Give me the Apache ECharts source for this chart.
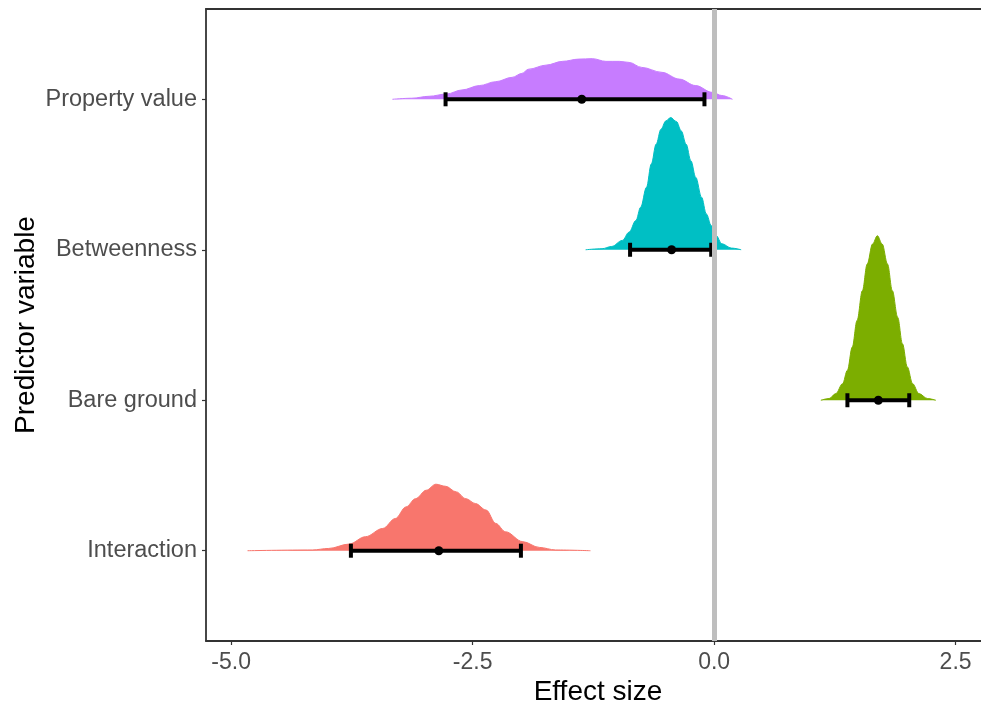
<!DOCTYPE html>
<html>
<head>
<meta charset="utf-8">
<script src="https://cdn.jsdelivr.net/npm/echarts@6/dist/echarts.min.js"></script>
<style>
    html, body { margin: 0; padding: 0; background: #fff; overflow: hidden; }
    #chart { width: 981px; height: 704px; }
</style>
</head>
<body>
<div id="chart"></div>
<script>
// rows from bottom to top
var categories = ['Interaction', 'Bare ground', 'Betweenness', 'Property value'];
var xTicks = [-5, -2.5, 0, 2.5];
var colors = ['#F8766D', '#7CAE00', '#00BFC4', '#C77CFF'];

// posterior densities: [effect size, height in row units]
var interactionDensity = [[-4.83,0],[-4.16,0.005],[-3.99,0.015],[-3.78,0.044],[-3.61,0.093],[-3.43,0.148],[-3.30,0.214],[-3.19,0.291],[-3.09,0.346],[-2.98,0.402],[-2.88,0.442],[-2.78,0.428],[-2.67,0.391],[-2.57,0.346],[-2.47,0.313],[-2.36,0.27],[-2.26,0.181],[-2.16,0.126],[-1.98,0.06],[-1.81,0.022],[-1.64,0.005],[-1.28,0]];
var bareGroundDensity = [[1.105,0],[1.19,0.011],[1.26,0.044],[1.33,0.11],[1.38,0.199],[1.43,0.353],[1.48,0.53],[1.535,0.728],[1.585,0.905],[1.64,1.038],[1.69,1.093],[1.74,1.038],[1.795,0.905],[1.845,0.728],[1.90,0.552],[1.95,0.375],[2.00,0.221],[2.055,0.11],[2.12,0.044],[2.21,0.011],[2.295,0]];
var betweennessDensity = [[-1.33,0],[-1.16,0.007],[-1.06,0.022],[-0.95,0.062],[-0.88,0.117],[-0.81,0.194],[-0.76,0.283],[-0.70,0.415],[-0.65,0.57],[-0.60,0.702],[-0.55,0.801],[-0.50,0.856],[-0.45,0.879],[-0.39,0.852],[-0.34,0.79],[-0.29,0.702],[-0.24,0.591],[-0.19,0.481],[-0.13,0.349],[-0.08,0.238],[-0.03,0.161],[0.02,0.095],[0.08,0.04],[0.18,0.011],[0.28,0]];
var propertyDensity = [[-3.33,0],[-3.13,0.007],[-2.95,0.02],[-2.77,0.035],[-2.61,0.062],[-2.43,0.091],[-2.26,0.117],[-2.09,0.146],[-1.99,0.172],[-1.92,0.20],[-1.74,0.227],[-1.57,0.252],[-1.40,0.267],[-1.26,0.27],[-1.12,0.252],[-0.98,0.252],[-0.88,0.245],[-0.75,0.212],[-0.54,0.179],[-0.36,0.134],[-0.19,0.091],[-0.02,0.046],[0.08,0.025],[0.19,0]];
var densities = [interactionDensity, bareGroundDensity, betweennessDensity, propertyDensity];

// interval and point estimate per row
var intervalLow = [-3.76, 1.38, -0.87, -2.78];
var intervalHigh = [-2.00, 2.02, -0.03, -0.10];
var pointEstimate = [-2.85, 1.70, -0.44, -1.37];

var font = "'Liberation Sans', Arial, sans-serif";
var chart = echarts.init(document.getElementById('chart'));

var series = [];
densities.forEach(function (d, i) {
    var row = i + 1;
    series.push({
        name: categories[i],
        type: 'line',
        z: 2,
        symbol: 'none',
        silent: true,
        smooth: 0.35,
        smoothMonotone: 'x',
        data: d.map(function (p) { return [p[0], row + p[1]]; }),
        lineStyle: { color: colors[i], width: 1 },
        areaStyle: { color: colors[i], opacity: 1, origin: row }
    });
});

// grey reference line at zero
series.push({
    type: 'line',
    z: 3,
    data: [],
    markLine: {
        silent: true,
        symbol: 'none',
        label: { show: false },
        lineStyle: { color: '#BEBEBE', width: 5, type: 'solid' },
        data: [{ xAxis: 0 }]
    }
});

var barData = categories.map(function (c, i) {
    return [intervalLow[i], intervalHigh[i], pointEstimate[i], i + 1];
});

series.push({
    type: 'custom',
    z: 4,
    silent: true,
    data: barData,
    encode: { x: [0, 1, 2], y: 3 },
    renderItem: function (params, api) {
        var lo = api.coord([api.value(0), api.value(3)]);
        var hi = api.coord([api.value(1), api.value(3)]);
        var mid = api.coord([api.value(2), api.value(3)]);
        var cap = 7;
        var st = { stroke: '#000', lineWidth: 4 };
        return {
            type: 'group',
            children: [
                { type: 'line', shape: { x1: lo[0], y1: lo[1], x2: hi[0], y2: hi[1] }, style: st },
                { type: 'line', shape: { x1: lo[0], y1: lo[1] - cap, x2: lo[0], y2: lo[1] + cap }, style: st },
                { type: 'line', shape: { x1: hi[0], y1: hi[1] - cap, x2: hi[0], y2: hi[1] + cap }, style: st },
                { type: 'circle', shape: { cx: mid[0], cy: mid[1], r: 4.5 }, style: { fill: '#000' } }
            ]
        };
    }
});

// the panel runs a little past the right edge of the picture
var xMin = -5.26;
var xMax = 2.856;

var option = {
    animation: false,
    backgroundColor: '#fff',
    grid: {
        left: 206,
        top: 9,
        width: 784,
        height: 632,
        outerBoundsMode: 'none',
        containLabel: false
    },
    xAxis: [{
        type: 'value',
        min: xMin,
        max: xMax,
        name: 'Effect size',
        nameLocation: 'middle',
        nameGap: 37,
        nameMoveOverlap: false,
        nameTextStyle: { color: '#000', fontSize: 28, fontFamily: font },
        splitLine: { show: false },
        axisLine: { onZero: false, lineStyle: { color: '#333', width: 1.8 } },
        axisTick: { customValues: xTicks, length: 4, lineStyle: { color: '#333', width: 1.2 } },
        axisLabel: {
            customValues: xTicks,
            margin: 10,
            color: '#4D4D4D',
            fontSize: 23,
            fontFamily: font,
            formatter: function (v) { return v.toFixed(1); }
        }
    }, {
        // top edge of the panel
        type: 'value',
        position: 'top',
        min: xMin,
        max: xMax,
        splitLine: { show: false },
        axisLine: { onZero: false, lineStyle: { color: '#333', width: 1.8 } },
        axisTick: { show: false },
        axisLabel: { show: false }
    }],
    yAxis: {
        type: 'value',
        min: 0.4,
        max: 4.6,
        name: 'Predictor variable',
        nameLocation: 'middle',
        nameGap: 166,
        nameMoveOverlap: false,
        nameTextStyle: { color: '#000', fontSize: 28, fontFamily: font },
        splitLine: { show: false },
        axisLine: { onZero: false, lineStyle: { color: '#333', width: 1.8 } },
        axisTick: { customValues: [1, 2, 3, 4], length: 4, lineStyle: { color: '#333', width: 1.2 } },
        axisLabel: {
            customValues: [1, 2, 3, 4],
            margin: 9,
            color: '#4D4D4D',
            fontSize: 23.5,
            fontFamily: font,
            formatter: function (v) { return categories[Math.round(v) - 1]; }
        }
    },
    series: series
};

chart.setOption(option);
</script>
</body>
</html>
